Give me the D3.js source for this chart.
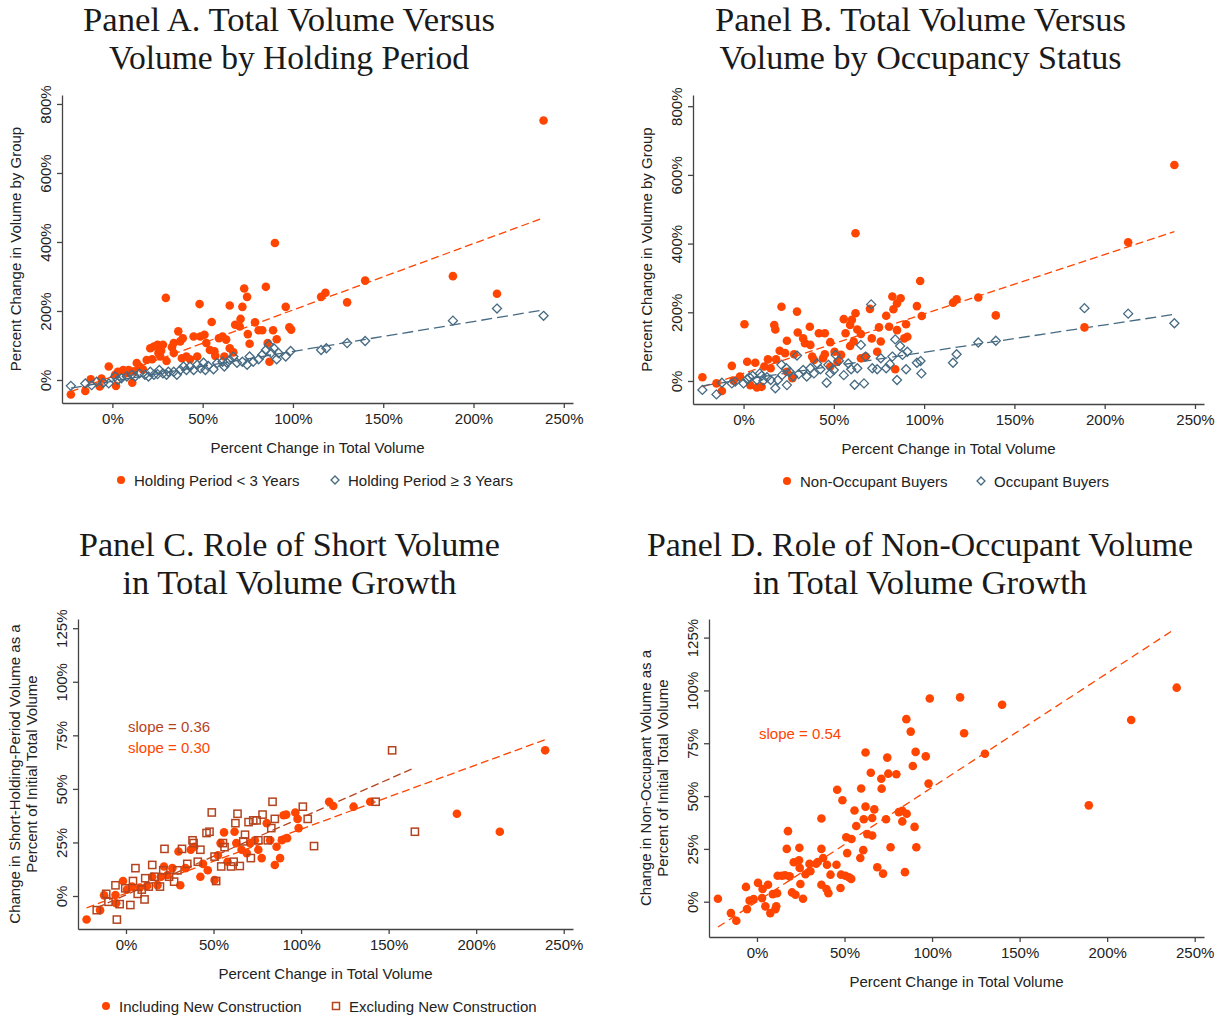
<!DOCTYPE html>
<html>
<head>
<meta charset="utf-8">
<script src="https://cdn.jsdelivr.net/npm/d3@7"></script>
<style>
  body { margin: 0; background: #fff; }
  svg { display: block; font-family: "Liberation Sans", Arial, sans-serif; }
  .title { font-family: "Liberation Serif", "DejaVu Serif", serif; font-size: 33px; fill: #1a1a1a; }
  .lbl { font-size: 15px; fill: #222; }
</style>
</head>
<body>
<svg id="chart" width="1223" height="1018"></svg>
<script>
// ---- tick values ----
const xTicks = [0, 50, 100, 150, 200, 250];
const yTicksTop = [0, 200, 400, 600, 800];
const yTicksBottom = [0, 25, 50, 75, 100, 125];

// ---- Panel A: holding period (x = % change total volume, y = % change group volume) ----
const shortHold = [[-23,-42],[-15,-32],[-12,2],[-7,-19],[-6,4],[-2,39],[2,-17],[1.5,15],[3,24],[6,29],[8,20],[9,29],
  [11,-8],[12,25],[13.5,49],[15,39],[17,30],[19,58],[21,92],[22,60],[23,97],[25,102],[25.5,78],[26.5,68],[27,85],
  [28,102],[29.6,238],[30,55],[33,95],[34,78],[34,107],[36.5,141],[37.6,112],[39,121],[38.5,63],[41,68],[43,60],
  [45,126],[47,68],[48.3,220],[48.7,126],[51,131],[52,107],[54,87],[55,168],[56.5,83],[57,70],[59,121],[61,126],
  [62,68],[63,117],[65,216],[65,92],[67,80],[68,160],[70.5,155],[71,177],[72,212],[73,265],[74.6,241],[75,133],
  [76,105],[79,167],[81,144],[83,144],[85,270],[86,107],[87,53],[89,144],[90,397],[91,118],[96,212],[98,153],
  [99,146],[115.6,241],[118,253],[130,225],[140,288],[188.6,301],[213,250],[238.8,752]];
const longHold = [[-23,-17],[-15,-10],[-11.5,-15],[-8.7,-5],[-5,-8],[-2,-10],[1.5,10],[3,0],[5,5],[8,10],[10.7,15],
  [12.6,10],[15,19],[18,15],[20,10],[21,24],[23,15],[25,17],[26,29],[28,19],[30,15],[31,24],[34,24],[35.7,15],
  [37.6,29],[39.4,39],[41,29],[43,39],[45,29],[47,44],[48.7,34],[50.5,50],[51.5,29],[53,41],[56,31],[58,49],
  [61,53],[62,39],[63.5,50],[65,58],[67,68],[69,50],[72,53],[74.6,44],[76,68],[78,53],[81,60],[83,73],[85,87],
  [86.7,102],[88,78],[89.4,92],[91,60],[92,78],[96,68],[98.7,84],[115.6,87],[118.5,92],[130,107],[140,113],
  [188.6,172],[213,207],[238.8,186]];
const fitShort = [[-23,-34],[238.8,470]];
const fitLong = [[-23,-23.5],[238.8,203]];

// ---- Panel B: occupancy status ----
const nonOccupant = [[-22.8,11],[-15,-7],[-12,-29],[-6.5,44],[-5.5,1],[-2,13],[0.5,165],[2,56],[3.7,-12],[6.5,53],
  [7.4,-19],[10,-17],[11.5,42],[13.5,63],[15,37],[17,163],[17.6,150],[18,63],[20,88],[21,216],[24,117],[23,81],
  [24,27],[27,8],[28,78],[29.6,202],[30,141],[33,124],[34,110],[36.7,158],[37,105],[38,71],[39,61],[41.7,139],
  [44,66],[45,139],[45,78],[48,113],[48,42],[50.4,85],[52,56],[54,76],[55.5,180],[56.5,139],[59,163],[59,102],
  [60,178],[61,115],[62,430],[62,197],[63,150],[65,137],[65,66],[67.6,71],[70,210],[71,124],[74,85],[75,156],
  [76,115],[79,190],[80.6,158],[82.4,246],[83,209],[85,226],[85,148],[84,34],[87,241],[89,124],[90,165],
  [90.7,129],[96,218],[97.8,291],[98.7,189],[116,228],[118,238],[130,243],[139.7,191],[188.8,156],[213,404],
  [238.6,629]];
const occupant = [[-22.8,-26],[-15,-39],[-12,-5],[-6.5,-7],[-4.6,-2],[0,-7],[2,5],[3.3,11],[5,15],[7.4,3],[9,22],
  [10,15],[11,1],[13,11],[15,3],[17.6,-21],[19,3],[21,47],[21.3,17],[23.7,37],[24,-12],[25.6,27],[27.4,13],
  [29.6,74],[30.5,20],[33,32],[35,13],[37,37],[39,22],[40.7,51],[42.6,34],[46,-5],[47,47],[48,22],[50,32],[51,76],
  [52.8,59],[55.5,17],[58,51],[59.6,34],[61.5,-11],[63,37],[65,105],[66.7,-7],[67.6,71],[70.7,223],[71.3,37],
  [74,34],[76,66],[79,37],[81,49],[82.4,71],[84,121],[85,3],[86.7,102],[88,76],[90,34],[90.7,85],[96,53],[98,58],
  [98.5,22],[116,53],[118,78],[130,112],[139.7,117],[188.8,212],[213,196],[238.6,168]];
const fitNonOcc = [[-22.8,-17],[238.6,435]];
const fitOcc = [[-22.8,-14],[238.6,194]];

// ---- Panel C: short-holding volume change as % of initial total volume ----
const inclNew = [[-22.5,-11],[-14.8,-6.6],[-12.5,0.3],[-6,0.5],[-5.6,-3.4],[-1.7,7],[0.6,3],[3.5,4.4],[8,4],
  [12,4.7],[15,9],[18,5],[20,9],[21.7,13.8],[23.7,9.8],[26.5,13],[30,20.8],[31,5],[34,13],[37,21.6],[39,23],
  [42.5,9],[44,15],[46.7,12],[50.6,7.5],[52.5,19],[54,24.7],[56,29.7],[58,16],[62,30],[63,24.7],[66,21.6],[69,20],
  [71,24.7],[73.6,26],[75.6,21.6],[77.5,17.7],[80.4,34],[82.3,26],[85,14.5],[86,23],[88,17.7],[89,26],[90,37.7],
  [91.5,38],[92,27],[96.7,39],[98,36],[98.6,31.7],[116,44],[118.4,42],[130,41.7],[139.5,44],[189,38.4],
  [213.5,30],[239.4,68]];
const exclNew = [[-16.7,-6.6],[-11.3,1],[-10,-2.7],[-6,5],[-5.2,-11],[-3.6,-3.8],[-0.4,3.6],[2.5,-4.2],[4,7],[5.4,13],
  [6.7,1],[9,3],[11,8.3],[10.6,-1.6],[13,4.4],[15,14.5],[16.3,9],[19.4,4.4],[21.3,12],[22,22],[24.6,9],[27.5,6.7],
  [29.4,12],[32,22],[35,15],[38,26],[38.6,24.7],[41,16],[42.5,21.6],[46,29.4],[47.7,30],[49,39],[50.6,18.4],
  [51.5,7],[54.4,13.8],[55.4,24.7],[56.3,22.8],[60,13.8],[61.5,16],[62.5,34],[63.7,38.4],[65,14],[67,25.5],
  [68,28.6],[70,34.5],[71.3,17.7],[72.7,35.3],[74.6,35.3],[75.6,26],[78,38],[81,26],[83,31.7],[83.7,44],[85,36],
  [101,41.7],[103.8,36],[107.4,23.3],[142.6,44],[152,68],[165,30]];
const fitIncl = [[-22.5,-5.5],[239.4,73]];
const fitExcl = [[-16.7,-5.5],[164.4,59.7]];

// ---- Panel D: non-occupant volume change as % of initial total volume ----
const nonOccShare = [[-22.3,1.4],[-14.9,-5.4],[-11.8,-9],[-6.3,7],[-5.7,-3.5],[-4.2,0.5],[-1.9,1.3],[0.6,8.9],
  [2.9,1.7],[3.2,6],[4.8,-2.2],[6.3,8],[7.6,-5.4],[9,3.6],[10.5,-3.5],[11,-2.2],[11.5,4],[11.8,12.3],[14.3,12.3],
  [16,12.5],[17,25],[17.7,33.4],[18.7,12],[20,4.4],[21,18.7],[22,3.3],[24,19.6],[24.2,25.5],[24.4,16],[24.8,8.4],
  [26.3,1.4],[27.7,13],[30,17.9],[30.5,14.4],[33.8,18],[34.7,18.8],[36.8,39.4],[36.8,25],[36.8,8],[37.8,20.7],
  [39.7,6],[40,17.5],[40.8,4],[42,12.8],[45.4,17.5],[45.8,53],[47.7,6.5],[48,12.8],[48.8,48],[50.5,12.3],[51,30.5],
  [51.5,23],[52.5,11.6],[53.8,10.8],[54,29.7],[55.7,43.2],[56.7,35.8],[59,20.7],[59.5,53.6],[60.7,24.4],[61,39],
  [62,70.6],[62,45],[63,32],[65,61],[65.8,31.3],[65.8,39.6],[67,43.7],[68.7,16.3],[71,58.2],[71.2,53.5],[72,13.3],
  [73.7,39],[74.4,68.2],[75,60.6],[76.3,25.8],[79.6,60.3],[81,42.4],[83,43],[83,38],[84.5,14],[85.5,41.6],
  [85.3,86.4],[87.8,80.5],[89,64.2],[90,35.4],[90.6,70.9],[91,25.8],[96.4,68.8],[98,55.9],[98.7,96.2],
  [116,96.7],[118.3,79.7],[130.2,70],[140,93.2],[189.5,45.6],[213.7,86],[239.7,101.3]];
const fitNonOccShare = [[-22.3,-12],[238.2,128.8]];

// ---- colours ----
const orange = "#ff4500";
const navy = "#466a82";
const brown = "#b4441f";

const svg = d3.select("#chart");

function drawPanel(p) {
  const x = d3.scaleLinear().domain(p.xDomain).range([p.left, p.right]);
  const y = d3.scaleLinear().domain(p.yDomain).range([p.bottom, p.top]);
  const g = svg.append("g");

  // titles
  p.title.forEach((t, i) => {
    g.append("text").attr("class", "title")
      .attr("x", p.titleX).attr("y", p.titleY + i * 38)
      .attr("text-anchor", "middle")
      .attr("textLength", p.titleW[i]).attr("lengthAdjust", "spacingAndGlyphs")
      .text(t);
  });

  // axes
  const gx = g.append("g")
    .attr("transform", `translate(0,${p.bottom})`)
    .call(d3.axisBottom(x).tickValues(xTicks).tickFormat(d => d + "%").tickSize(5).tickSizeOuter(0));
  gx.selectAll("text").attr("y", 21).attr("dy", 0).attr("class", "lbl").style("font-size", "15px");

  const gy = g.append("g")
    .attr("transform", `translate(${p.left},0)`)
    .call(d3.axisLeft(y).tickValues(p.yTicks).tickFormat(d => d + "%").tickSize(5).tickSizeOuter(0));
  gy.selectAll("text")
    .attr("transform", "rotate(-90)")
    .attr("x", 0).attr("y", -11).attr("dy", 0)
    .attr("text-anchor", "middle")
    .attr("class", "lbl").style("font-size", "15px");

  [gx, gy].forEach(a => {
    a.select(".domain").attr("stroke", "#444").attr("stroke-width", 1.3);
    a.selectAll(".tick line").attr("stroke", "#444").attr("stroke-width", 1.3);
    a.attr("font-family", null).attr("font-size", null);
  });

  // axis titles
  g.append("text").attr("class", "lbl")
    .attr("x", (p.left + p.right) / 2).attr("y", p.bottom + 50)
    .attr("text-anchor", "middle")
    .text("Percent Change in Total Volume");

  const yc = (p.top + p.bottom) / 2;
  p.yTitle.forEach((t, i) => {
    const off = p.yTitle.length === 1 ? 41 : (i === 0 ? 58 : 41);
    g.append("text").attr("class", "lbl")
      .attr("transform", `translate(${p.left - off},${yc}) rotate(-90)`)
      .attr("text-anchor", "middle")
      .text(t);
  });

  const line = d3.line().x(d => x(d[0])).y(d => y(d[1]));

  p.series.forEach(s => {
    if (s.fit) {
      g.append("path").attr("d", line(s.fit))
        .attr("fill", "none").attr("stroke", s.lineColor || s.color)
        .attr("stroke-width", 1.3).attr("stroke-dasharray", s.dash);
    }
  });

  p.series.forEach(s => {
    const pts = g.append("g");
    if (s.shape === "circle") {
      pts.selectAll("circle").data(s.data).join("circle")
        .attr("cx", d => x(d[0])).attr("cy", d => y(d[1])).attr("r", 4.3)
        .attr("fill", s.color);
    } else if (s.shape === "diamond") {
      pts.selectAll("path").data(s.data).join("path")
        .attr("d", d3.symbol(d3.symbolDiamond2, 52)())
        .attr("transform", d => `translate(${x(d[0])},${y(d[1])})`)
        .attr("fill", "none").attr("stroke", s.color).attr("stroke-width", 1.3);
    } else {
      pts.selectAll("rect").data(s.data).join("rect")
        .attr("x", d => x(d[0]) - 3.6).attr("y", d => y(d[1]) - 3.6)
        .attr("width", 7.2).attr("height", 7.2)
        .attr("fill", "none").attr("stroke", s.color).attr("stroke-width", 1.5);
    }
  });

  // legend
  if (p.legend) {
    const ly = p.bottom + 77;
    p.legend.forEach(item => {
      const lg = g.append("g").attr("transform", `translate(${item.x},${ly})`);
      if (item.shape === "circle") {
        lg.append("circle").attr("r", 4).attr("fill", item.color);
      } else if (item.shape === "diamond") {
        lg.append("path").attr("d", d3.symbol(d3.symbolDiamond2, 40)())
          .attr("fill", "none").attr("stroke", item.color).attr("stroke-width", 1.3);
      } else {
        lg.append("rect").attr("x", -3.5).attr("y", -3.5).attr("width", 7).attr("height", 7)
          .attr("fill", "none").attr("stroke", item.color).attr("stroke-width", 1.5);
      }
      lg.append("text").attr("class", "lbl").attr("x", 13).attr("y", 5.5).text(item.label);
    });
  }

  (p.notes || []).forEach(n => {
    g.append("text").attr("class", "lbl").attr("x", n.x).attr("y", n.y)
      .style("fill", n.color).text(n.text);
  });
}

drawPanel({
  left: 62, right: 573, top: 95, bottom: 403,
  xDomain: [-27.9, 255.1], yDomain: [-66.7, 826],
  yTicks: yTicksTop,
  title: ["Panel A. Total Volume Versus", "Volume by Holding Period"],
  titleX: 289, titleY: 31, titleW: [412, 360],
  yTitle: ["Percent Change in Volume by Group"],
  series: [
    { data: shortHold, shape: "circle", color: orange, fit: fitShort, dash: "8,4" },
    { data: longHold, shape: "diamond", color: navy, fit: fitLong, dash: "11,5" }
  ],
  legend: [
    { x: 121, shape: "circle", color: orange, label: "Holding Period < 3 Years" },
    { x: 335, shape: "diamond", color: navy, label: "Holding Period \u2265 3 Years" }
  ]
});

drawPanel({
  left: 693, right: 1204, top: 95, bottom: 404,
  xDomain: [-28, 255], yDomain: [-67, 832.6],
  yTicks: yTicksTop,
  title: ["Panel B. Total Volume Versus", "Volume by Occupancy Status"],
  titleX: 920.5, titleY: 31, titleW: [411, 402],
  yTitle: ["Percent Change in Volume by Group"],
  series: [
    { data: nonOccupant, shape: "circle", color: orange, fit: fitNonOcc, dash: "8,4" },
    { data: occupant, shape: "diamond", color: navy, fit: fitOcc, dash: "11,5" }
  ],
  legend: [
    { x: 787, shape: "circle", color: orange, label: "Non-Occupant Buyers" },
    { x: 981, shape: "diamond", color: navy, label: "Occupant Buyers" }
  ]
});

drawPanel({
  left: 78, right: 573, top: 619, bottom: 929,
  xDomain: [-27.4, 255.3], yDomain: [-15.4, 129.3],
  yTicks: yTicksBottom,
  title: ["Panel C. Role of Short Volume", "in Total Volume Growth"],
  titleX: 289.5, titleY: 556, titleW: [421, 334],
  yTitle: ["Change in Short-Holding-Period Volume as a", "Percent of Initial Total Volume"],
  series: [
    { data: inclNew, shape: "circle", color: orange, fit: fitIncl, dash: "8,4" },
    { data: exclNew, shape: "square", color: brown, fit: fitExcl, dash: "8,4" }
  ],
  legend: [
    { x: 106, shape: "circle", color: orange, label: "Including New Construction" },
    { x: 336, shape: "square", color: brown, label: "Excluding New Construction" }
  ],
  notes: [
    { x: 128, y: 732, color: brown, text: "slope = 0.36" },
    { x: 128, y: 753, color: orange, text: "slope = 0.30" }
  ]
});

drawPanel({
  left: 709, right: 1204, top: 619, bottom: 937,
  xDomain: [-27.4, 255.3], yDomain: [-16.7, 133.8],
  yTicks: yTicksBottom,
  title: ["Panel D. Role of Non-Occupant Volume", "in Total Volume Growth"],
  titleX: 920, titleY: 556, titleW: [546, 334],
  yTitle: ["Change in Non-Occupant Volume as a", "Percent of Initial Total Volume"],
  series: [
    { data: nonOccShare, shape: "circle", color: orange, fit: fitNonOccShare, dash: "8,5" }
  ],
  notes: [
    { x: 759, y: 739, color: orange, text: "slope = 0.54" }
  ]
});
</script>
</body>
</html>
